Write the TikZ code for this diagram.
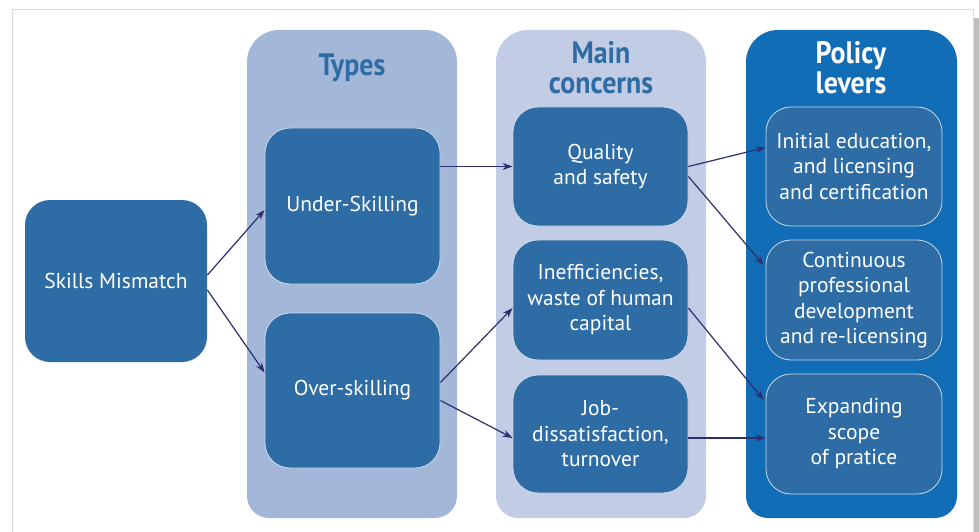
\documentclass[tikz,border=0pt]{standalone}
\usepackage{fontspec}
\usepackage{xcolor}
\usepackage{tikz}
\usetikzlibrary{arrows.meta}
\setmainfont{PT Sans}
\newfontfamily\titlefont[FakeStretch=0.9]{PT Sans Bold}

\definecolor{typesbg}{HTML}{A3B8D9}
\definecolor{concernbg}{HTML}{C2CCE5}
\definecolor{leverbg}{HTML}{116DB6}
\definecolor{boxblue}{HTML}{2E6CA5}
\definecolor{arrowblue}{HTML}{2B2F6E}
\definecolor{framegray}{HTML}{DADADA}

\begin{document}
\begin{tikzpicture}[x=1pt, y=-1pt]
        \useasboundingbox (0,0) rectangle (979,532);
        % frame
        \draw[framegray, line width=1pt] (12,532) -- (12,10) -- (973,10) -- (973,532);
        \fill[black!25] (974,18) rectangle (979,532);
        % columns
        \fill[typesbg] (247,300) [rounded corners=32pt] -- (247,30) -- (457,30)
            [rounded corners=22pt] -- (457,518) -- (247,518) [sharp corners] -- cycle;
        \fill[concernbg] (496,300) [rounded corners=32pt] -- (496,30) -- (706,30)
            [rounded corners=22pt] -- (706,518) -- (496,518) [sharp corners] -- cycle;
        \fill[leverbg] (746,300) [rounded corners=32pt] -- (746,30) -- (957,30)
            [rounded corners=22pt] -- (957,518) -- (746,518) [sharp corners] -- cycle;
        \begin{scope}[every node/.style = {align=center, inner sep=0pt, font=\titlefont\fontsize{31}{30}\selectfont}]
            \node[text=boxblue] (types) at (352,68) {Types};
            \node[text=boxblue] (concerns) at (601,68) {Main\\concerns};
            \node[text=white] (levers) at (851,68) {Policy\\levers};
        \end{scope}
        \begin{scope}[every node/.style = {rounded corners=25pt, fill=boxblue, draw=white!75!boxblue, line width=0.8pt,
                text=white, align=center, inner sep=0pt, font=\fontsize{21.5}{25.5}\selectfont}]
            \node[draw=none, minimum width=182pt, minimum height=162pt] (skills) at (116,281) {Skills Mismatch};
            \node[minimum width=175pt, minimum height=156pt] (under) at (352.5,206) {Under-Skilling};
            \node[minimum width=175pt, minimum height=155pt] (over) at (352.5,390.5) {Over-skilling};
            \node[minimum width=175pt, minimum height=119pt] (quality) at (600.5,166.5) {Quality\\and safety};
            \node[minimum width=175pt, minimum height=120pt] (ineff) at (600.5,300) {Inefficiencies,\\waste of human\\capital};
            \node[minimum width=175pt, minimum height=118pt] (job) at (600.5,434) {Job-\\dissatisfaction,\\turnover};
            \node[minimum width=176pt, minimum height=119pt] (initial) at (854,166.5) {Initial education,\\and licensing\\and certification};
            \node[minimum width=176pt, minimum height=120pt] (continuous) at (854,300) {Continuous\\professional\\development\\and re-licensing};
            \node[minimum width=176pt, minimum height=120pt] (expanding) at (854,434) {Expanding\\scope\\of pratice};
        \end{scope}
        \begin{scope}[arrowblue, line width=1.2pt, -{Stealth[length=10pt, width=7pt]}]
            \path ([yshift=6pt]skills.east) edge ([yshift=-4pt]under.west);
            \path ([yshift=-9pt]skills.east) edge ([yshift=18pt]over.west);
            \path (under.east |- quality.west) edge (quality.west);
            \path ([yshift=8pt]over.east) edge ([yshift=-8pt]ineff.west);
            \path ([yshift=-10pt]over.east) edge ([yshift=-4pt]job.west);
            \path (quality.east) edge ([yshift=19pt]initial.west);
            \path ([yshift=-10pt]quality.east) edge ([xshift=-2pt, yshift=35pt]continuous.west);
            \path ([yshift=-8pt]ineff.east) edge ([xshift=-2pt, yshift=34pt]expanding.west);
            \path ([yshift=-4pt]job.east) edge ([yshift=-4pt]expanding.west);
        \end{scope}
    \end{tikzpicture}
\end{document}
